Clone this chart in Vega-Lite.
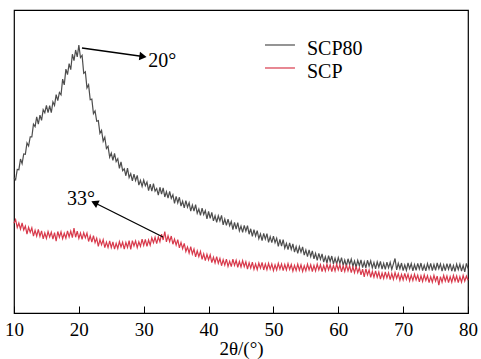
{
  "$schema": "https://vega.github.io/schema/vega-lite/v6.json",
  "width": 454,
  "height": 303,
  "autosize": {"type": "none"},
  "padding": {"left": 14, "top": 10, "right": 13, "bottom": 46},
  "background": "white",
  "config": {"view": {"stroke": "#000", "strokeWidth": 1.2}},
  "datasets": {
    "labels": [
      {"x":30.7,"y":83.2,"text":"20°"},
      {"x":18.17,"y":37.7,"text":"33°"}
    ],
    "legend": [
      {"series":"SCP80","x1":48.70,"x2":53.32,"y":88.45,"tx":55.17,"ty":87.25},
      {"series":"SCP","x1":48.70,"x2":53.32,"y":80.86,"tx":55.17,"ty":79.66}
    ],
    "arrows": [
      {"id":"a20","x":20.48,"y":87.46},{"id":"a20","x":29.89,"y":84.65},
      {"id":"a33","x":32.97,"y":25.08},{"id":"a33","x":22.43,"y":36.40}
    ],
    "head20": [{"x":29.89,"y":84.65}],
    "head33": [{"x":22.43,"y":36.40}],
    "xrd": [
{"x":10,"SCP80":44.7,"SCP":29.6},{"x":10.25,"SCP80":44.0,"SCP":30.8},{"x":10.5,"SCP80":47.4,"SCP":28.2},{"x":10.75,"SCP80":47.3,"SCP":29.7},
{"x":11,"SCP80":50.8,"SCP":27.7},{"x":11.25,"SCP80":49.3,"SCP":29.7},{"x":11.5,"SCP80":52.5,"SCP":27.4},{"x":11.75,"SCP80":52.4,"SCP":28.7},
{"x":12,"SCP80":56.1,"SCP":26.0},{"x":12.25,"SCP80":55.1,"SCP":28.3},{"x":12.5,"SCP80":58.1,"SCP":26.6},{"x":12.75,"SCP80":58.1,"SCP":28.1},
{"x":13,"SCP80":62.3,"SCP":25.4},{"x":13.25,"SCP80":61.5,"SCP":27.3},{"x":13.5,"SCP80":64.7,"SCP":25.4},{"x":13.75,"SCP80":62.3,"SCP":27.6},
{"x":14,"SCP80":65.3,"SCP":25.3},{"x":14.25,"SCP80":63.6,"SCP":27.1},{"x":14.5,"SCP80":67.1,"SCP":24.5},{"x":14.75,"SCP80":66.1,"SCP":26.4},
{"x":15,"SCP80":68.5,"SCP":24.6},{"x":15.25,"SCP80":66.1,"SCP":26.9},{"x":15.5,"SCP80":68.4,"SCP":25.1},{"x":15.75,"SCP80":66.1,"SCP":26.7},
{"x":16,"SCP80":69.7,"SCP":24.4},{"x":16.25,"SCP80":68.5,"SCP":26.5},{"x":16.5,"SCP80":72.1,"SCP":23.7},{"x":16.75,"SCP80":70.1,"SCP":26.9},
{"x":17,"SCP80":72.8,"SCP":25.0},{"x":17.25,"SCP80":72.0,"SCP":26.8},{"x":17.5,"SCP80":77.2,"SCP":24.5},{"x":17.75,"SCP80":75.3,"SCP":26.3},
{"x":18,"SCP80":80.5,"SCP":24.7},{"x":18.25,"SCP80":78.7,"SCP":27.1},{"x":18.5,"SCP80":82.3,"SCP":25.1},{"x":18.75,"SCP80":80.3,"SCP":27.0},
{"x":19,"SCP80":85.4,"SCP":24.9},{"x":19.25,"SCP80":83.3,"SCP":28.0},{"x":19.5,"SCP80":86.8,"SCP":25.0},{"x":19.75,"SCP80":84.5,"SCP":27.0},
{"x":20,"SCP80":88.4,"SCP":24.6},{"x":20.25,"SCP80":84.3,"SCP":26.4},{"x":20.5,"SCP80":85.0,"SCP":24.3},{"x":20.75,"SCP80":79.1,"SCP":26.5},
{"x":21,"SCP80":79.6,"SCP":24.8},{"x":21.25,"SCP80":74.3,"SCP":26.4},{"x":21.5,"SCP80":75.3,"SCP":23.6},{"x":21.75,"SCP80":70.4,"SCP":25.5},
{"x":22,"SCP80":70.6,"SCP":23.4},{"x":22.25,"SCP80":65.8,"SCP":25.5},{"x":22.5,"SCP80":66.7,"SCP":23.2},{"x":22.75,"SCP80":63.3,"SCP":24.7},
{"x":23,"SCP80":63.5,"SCP":22.0},{"x":23.25,"SCP80":59.3,"SCP":24.2},{"x":23.5,"SCP80":60.3,"SCP":22.5},{"x":23.75,"SCP80":56.7,"SCP":24.2},
{"x":24,"SCP80":58.0,"SCP":21.6},{"x":24.25,"SCP80":54.3,"SCP":23.4},{"x":24.5,"SCP80":55.0,"SCP":21.6},{"x":24.75,"SCP80":51.4,"SCP":23.8},
{"x":25,"SCP80":52.8,"SCP":21.6},{"x":25.25,"SCP80":50.4,"SCP":23.5},{"x":25.5,"SCP80":52.7,"SCP":21.1},{"x":25.75,"SCP80":50.0,"SCP":23.0},
{"x":26,"SCP80":50.9,"SCP":21.3},{"x":26.25,"SCP80":47.7,"SCP":23.6},{"x":26.5,"SCP80":49.9,"SCP":21.8},{"x":26.75,"SCP80":47.0,"SCP":23.4},
{"x":27,"SCP80":47.6,"SCP":21.1},{"x":27.25,"SCP80":45.3,"SCP":23.3},{"x":27.5,"SCP80":47.8,"SCP":21.6},{"x":27.75,"SCP80":44.7,"SCP":23.9},
{"x":28,"SCP80":46.0,"SCP":21.0},{"x":28.25,"SCP80":43.6,"SCP":23.9},{"x":28.5,"SCP80":45.8,"SCP":22.1},{"x":28.75,"SCP80":43.7,"SCP":23.8},
{"x":29,"SCP80":45.4,"SCP":21.6},{"x":29.25,"SCP80":42.2,"SCP":23.5},{"x":29.5,"SCP80":43.8,"SCP":22.0},{"x":29.75,"SCP80":41.8,"SCP":24.4},
{"x":30,"SCP80":43.9,"SCP":22.3},{"x":30.25,"SCP80":42.0,"SCP":24.3},{"x":30.5,"SCP80":43.2,"SCP":22.0},{"x":30.75,"SCP80":40.4,"SCP":24.1},
{"x":31,"SCP80":42.5,"SCP":22.4},{"x":31.25,"SCP80":40.2,"SCP":24.8},{"x":31.5,"SCP80":42.7,"SCP":23.2},{"x":31.75,"SCP80":40.2,"SCP":25.0},
{"x":32,"SCP80":41.1,"SCP":22.9},{"x":32.25,"SCP80":38.9,"SCP":25.1},{"x":32.5,"SCP80":41.5,"SCP":23.5},{"x":32.75,"SCP80":39.2,"SCP":26.0},
{"x":33,"SCP80":41.3,"SCP":24.1},{"x":33.25,"SCP80":38.3,"SCP":26.9},{"x":33.5,"SCP80":40.0,"SCP":23.5},{"x":33.75,"SCP80":37.9,"SCP":25.5},
{"x":34,"SCP80":40.1,"SCP":23.6},{"x":34.25,"SCP80":37.8,"SCP":25.4},{"x":34.5,"SCP80":39.0,"SCP":22.7},{"x":34.75,"SCP80":36.2,"SCP":24.4},
{"x":35,"SCP80":38.5,"SCP":22.4},{"x":35.25,"SCP80":36.3,"SCP":24.2},{"x":35.5,"SCP80":38.2,"SCP":21.5},{"x":35.75,"SCP80":35.3,"SCP":23.3},
{"x":36,"SCP80":36.9,"SCP":21.2},{"x":36.25,"SCP80":34.7,"SCP":23.0},{"x":36.5,"SCP80":37.1,"SCP":20.3},{"x":36.75,"SCP80":34.9,"SCP":21.8},
{"x":37,"SCP80":36.4,"SCP":19.8},{"x":37.25,"SCP80":33.6,"SCP":21.9},{"x":37.5,"SCP80":35.6,"SCP":19.5},{"x":37.75,"SCP80":33.6,"SCP":21.1},
{"x":38,"SCP80":35.8,"SCP":18.5},{"x":38.25,"SCP80":32.9,"SCP":20.5},{"x":38.5,"SCP80":34.3,"SCP":18.6},{"x":38.75,"SCP80":32.2,"SCP":20.3},
{"x":39,"SCP80":34.6,"SCP":17.7},{"x":39.25,"SCP80":32.5,"SCP":19.5},{"x":39.5,"SCP80":33.8,"SCP":17.3},{"x":39.75,"SCP80":31.1,"SCP":19.4},
{"x":40,"SCP80":33.5,"SCP":17.5},{"x":40.25,"SCP80":31.2,"SCP":19.2},{"x":40.5,"SCP80":33.2,"SCP":16.6},{"x":40.75,"SCP80":30.4,"SCP":18.4},
{"x":41,"SCP80":32.1,"SCP":16.5},{"x":41.25,"SCP80":29.9,"SCP":18.6},{"x":41.5,"SCP80":32.1,"SCP":16.4},{"x":41.75,"SCP80":30.4,"SCP":18.0},
{"x":42,"SCP80":32.2,"SCP":15.6},{"x":42.25,"SCP80":29.1,"SCP":17.6},{"x":42.5,"SCP80":31.0,"SCP":15.8},{"x":42.75,"SCP80":28.9,"SCP":17.8},
{"x":43,"SCP80":31.0,"SCP":15.4},{"x":43.25,"SCP80":28.8,"SCP":17.1},{"x":43.5,"SCP80":30.2,"SCP":15.3},{"x":43.75,"SCP80":27.5,"SCP":17.8},
{"x":44,"SCP80":29.9,"SCP":15.7},{"x":44.25,"SCP80":27.7,"SCP":17.4},{"x":44.5,"SCP80":29.8,"SCP":15.1},{"x":44.75,"SCP80":27.1,"SCP":17.0},
{"x":45,"SCP80":28.7,"SCP":15.2},{"x":45.25,"SCP80":26.6,"SCP":17.3},{"x":45.5,"SCP80":28.9,"SCP":15.3},{"x":45.75,"SCP80":27.0,"SCP":16.9},
{"x":46,"SCP80":28.8,"SCP":14.5},{"x":46.25,"SCP80":26.0,"SCP":16.6},{"x":46.5,"SCP80":27.8,"SCP":14.8},{"x":46.75,"SCP80":25.3,"SCP":16.8},
{"x":47,"SCP80":27.5,"SCP":14.4},{"x":47.25,"SCP80":25.4,"SCP":16.2},{"x":47.5,"SCP80":27.2,"SCP":14.3},{"x":47.75,"SCP80":24.5,"SCP":16.5},
{"x":48,"SCP80":26.1,"SCP":14.8},{"x":48.25,"SCP80":23.9,"SCP":16.7},{"x":48.5,"SCP80":26.3,"SCP":14.2},{"x":48.75,"SCP80":24.4,"SCP":16.2},
{"x":49,"SCP80":26.2,"SCP":14.3},{"x":49.25,"SCP80":23.3,"SCP":16.4},{"x":49.5,"SCP80":25.2,"SCP":14.5},{"x":49.75,"SCP80":23.2,"SCP":16.2},
{"x":50,"SCP80":25.4,"SCP":14.0},{"x":50.25,"SCP80":23.2,"SCP":15.9},{"x":50.5,"SCP80":24.7,"SCP":14.2},{"x":50.75,"SCP80":22.0,"SCP":16.4},
{"x":51,"SCP80":24.3,"SCP":14.5},{"x":51.25,"SCP80":22.1,"SCP":16.2},{"x":51.5,"SCP80":24.2,"SCP":14.0},{"x":51.75,"SCP80":21.4,"SCP":16.0},
{"x":52,"SCP80":23.0,"SCP":14.2},{"x":52.25,"SCP80":20.9,"SCP":16.3},{"x":52.5,"SCP80":23.1,"SCP":14.4},{"x":52.75,"SCP80":21.0,"SCP":16.0},
{"x":53,"SCP80":22.8,"SCP":13.8},{"x":53.25,"SCP80":20.1,"SCP":15.7},{"x":53.5,"SCP80":21.9,"SCP":14.0},{"x":53.75,"SCP80":19.7,"SCP":16.1},
{"x":54,"SCP80":21.9,"SCP":14.1},{"x":54.25,"SCP80":20.1,"SCP":15.9},{"x":54.5,"SCP80":21.8,"SCP":13.7},{"x":54.75,"SCP80":19.1,"SCP":15.6},
{"x":55,"SCP80":20.8,"SCP":13.9},{"x":55.25,"SCP80":18.6,"SCP":16.1},{"x":55.5,"SCP80":20.8,"SCP":14.2},{"x":55.75,"SCP80":18.6,"SCP":15.9},
{"x":56,"SCP80":20.5,"SCP":13.7},{"x":56.25,"SCP80":17.9,"SCP":15.7},{"x":56.5,"SCP80":19.7,"SCP":13.9},{"x":56.75,"SCP80":17.4,"SCP":16.1},
{"x":57,"SCP80":19.7,"SCP":14.2},{"x":57.25,"SCP80":17.7,"SCP":15.9},{"x":57.5,"SCP80":19.5,"SCP":13.7},{"x":57.75,"SCP80":16.8,"SCP":15.7},
{"x":58,"SCP80":18.6,"SCP":13.9},{"x":58.25,"SCP80":16.5,"SCP":16.1},{"x":58.5,"SCP80":18.9,"SCP":14.2},{"x":58.75,"SCP80":17.0,"SCP":15.9},
{"x":59,"SCP80":18.8,"SCP":13.7},{"x":59.25,"SCP80":16.2,"SCP":15.7},{"x":59.5,"SCP80":18.1,"SCP":13.9},{"x":59.75,"SCP80":16.1,"SCP":16.1},
{"x":60,"SCP80":18.3,"SCP":14.2},{"x":60.25,"SCP80":16.4,"SCP":15.9},{"x":60.5,"SCP80":18.3,"SCP":13.6},{"x":60.75,"SCP80":15.7,"SCP":15.6},
{"x":61,"SCP80":17.5,"SCP":13.7},{"x":61.25,"SCP80":15.5,"SCP":15.9},{"x":61.5,"SCP80":17.9,"SCP":13.9},{"x":61.75,"SCP80":16.0,"SCP":15.6},
{"x":62,"SCP80":17.8,"SCP":13.3},{"x":62.25,"SCP80":15.4,"SCP":15.2},{"x":62.5,"SCP80":17.2,"SCP":13.3},{"x":62.75,"SCP80":15.1,"SCP":15.4},
{"x":63,"SCP80":17.4,"SCP":13.3},{"x":63.25,"SCP80":15.6,"SCP":14.9},{"x":63.5,"SCP80":17.5,"SCP":12.6},{"x":63.75,"SCP80":15.0,"SCP":14.5},
{"x":64,"SCP80":16.9,"SCP":11.9},{"x":64.25,"SCP80":14.9,"SCP":14.6},{"x":64.5,"SCP80":17.4,"SCP":12.6},{"x":64.75,"SCP80":15.5,"SCP":14.2},
{"x":65,"SCP80":17.2,"SCP":11.8},{"x":65.25,"SCP80":14.9,"SCP":13.7},{"x":65.5,"SCP80":16.7,"SCP":11.8},{"x":65.75,"SCP80":14.6,"SCP":13.9},
{"x":66,"SCP80":16.9,"SCP":11.8},{"x":66.25,"SCP80":15.1,"SCP":13.5},{"x":66.5,"SCP80":17.0,"SCP":11.2},{"x":66.75,"SCP80":14.5,"SCP":13.2},
{"x":67,"SCP80":16.4,"SCP":11.4},{"x":67.25,"SCP80":14.4,"SCP":13.6},{"x":67.5,"SCP80":16.8,"SCP":11.6},{"x":67.75,"SCP80":14.9,"SCP":13.3},
{"x":68,"SCP80":16.7,"SCP":11.0},{"x":68.25,"SCP80":14.4,"SCP":13.0},{"x":68.5,"SCP80":16.2,"SCP":11.1},{"x":68.75,"SCP80":18.0,"SCP":13.3},
{"x":69,"SCP80":14.2,"SCP":11.4},{"x":69.25,"SCP80":16.4,"SCP":13.0},{"x":69.5,"SCP80":14.6,"SCP":10.8},{"x":69.75,"SCP80":16.5,"SCP":12.7},
{"x":70,"SCP80":14.0,"SCP":10.9},{"x":70.25,"SCP80":15.9,"SCP":13.1},{"x":70.5,"SCP80":14.1,"SCP":11.1},{"x":70.75,"SCP80":16.5,"SCP":12.8},
{"x":71,"SCP80":14.6,"SCP":10.6},{"x":71.25,"SCP80":16.3,"SCP":12.5},{"x":71.5,"SCP80":13.9,"SCP":10.7},{"x":71.75,"SCP80":16.0,"SCP":12.8},
{"x":72,"SCP80":14.1,"SCP":10.9},{"x":72.25,"SCP80":16.4,"SCP":12.5},{"x":72.5,"SCP80":14.5,"SCP":10.3},{"x":72.75,"SCP80":16.5,"SCP":12.3},
{"x":73,"SCP80":14.0,"SCP":10.4},{"x":73.25,"SCP80":15.8,"SCP":12.6},{"x":73.5,"SCP80":13.9,"SCP":10.7},{"x":73.75,"SCP80":16.3,"SCP":12.3},
{"x":74,"SCP80":14.5,"SCP":10.0},{"x":74.25,"SCP80":16.4,"SCP":12.0},{"x":74.5,"SCP80":14.0,"SCP":10.2},{"x":74.75,"SCP80":16.0,"SCP":12.4},
{"x":75,"SCP80":14.1,"SCP":10.5},{"x":75.25,"SCP80":16.5,"SCP":12.2},{"x":75.5,"SCP80":14.6,"SCP":9.2},{"x":75.75,"SCP80":16.2,"SCP":12.0},
{"x":76,"SCP80":13.8,"SCP":10.2},{"x":76.25,"SCP80":15.9,"SCP":12.4},{"x":76.5,"SCP80":14.0,"SCP":10.5},{"x":76.75,"SCP80":16.3,"SCP":12.2},
{"x":77,"SCP80":14.4,"SCP":10.0},{"x":77.25,"SCP80":16.3,"SCP":12.0},{"x":77.5,"SCP80":13.8,"SCP":10.2},{"x":77.75,"SCP80":15.7,"SCP":12.4},
{"x":78,"SCP80":13.7,"SCP":10.5},{"x":78.25,"SCP80":16.1,"SCP":12.2},{"x":78.5,"SCP80":14.3,"SCP":10.0},{"x":78.75,"SCP80":16.1,"SCP":12.0},
{"x":79,"SCP80":13.8,"SCP":10.2},{"x":79.25,"SCP80":15.7,"SCP":12.4},{"x":79.5,"SCP80":13.6,"SCP":10.5},{"x":79.75,"SCP80":16.4,"SCP":12.2},
{"x":80,"SCP80":14.7,"SCP":10.8}
    ]
  },
  "layer": [
    {
      "data": {"name": "xrd"},
      "transform": [{"fold": ["SCP80", "SCP"], "as": ["series", "v"]}],
      "mark": {"type": "line", "strokeWidth": 1.2},
      "encoding": {
        "x": {
          "field": "x", "type": "quantitative",
          "scale": {"domain": [10, 80], "nice": false, "zero": false},
          "axis": {
            "values": [10, 20, 30, 40, 50, 60, 70, 80],
            "tickSize": -7, "tickColor": "#000", "tickWidth": 1,
            "domainColor": "#000", "domainWidth": 1.2, "grid": false,
            "labelFont": "Liberation Serif", "labelFontSize": 19, "labelColor": "#000",
            "labelPadding": 14, "labelFlush": false,
            "title": "2θ/(°)", "titleFont": "Liberation Serif", "titleFontSize": 19,
            "titleFontWeight": "normal", "titleColor": "#000", "titlePadding": 0
          }
        },
        "y": {"field": "v", "type": "quantitative", "scale": {"domain": [0, 100]}, "axis": null},
        "color": {
          "field": "series", "type": "nominal",
          "scale": {"domain": ["SCP80", "SCP"], "range": ["#4d4d4d", "#d8394b"]},
          "legend": null
        }
      }
    },
    {
      "data": {"name": "labels"},
      "mark": {"type": "text", "font": "Liberation Serif", "fontSize": 20, "align": "left"},
      "encoding": {
        "x": {"field": "x", "type": "quantitative"},
        "y": {"field": "y", "type": "quantitative"},
        "text": {"field": "text"}
      }
    },
    {
      "data": {"name": "legend"},
      "mark": {"type": "text", "font": "Liberation Serif", "fontSize": 20, "align": "left"},
      "encoding": {
        "x": {"field": "tx", "type": "quantitative"},
        "y": {"field": "ty", "type": "quantitative"},
        "text": {"field": "series"}
      }
    },
    {
      "data": {"name": "arrows"},
      "mark": {"type": "line", "color": "#000", "strokeWidth": 1.3},
      "encoding": {
        "x": {"field": "x", "type": "quantitative"},
        "y": {"field": "y", "type": "quantitative"},
        "detail": {"field": "id"}
      }
    },
    {
      "data": {"name": "head20"},
      "mark": {"type": "point", "shape": "triangle-right", "filled": true, "color": "#000", "size": 70, "opacity": 1, "angle": 8},
      "encoding": {
        "x": {"field": "x", "type": "quantitative"},
        "y": {"field": "y", "type": "quantitative"}
      }
    },
    {
      "data": {"name": "head33"},
      "mark": {"type": "point", "shape": "triangle-right", "filled": true, "color": "#000", "size": 70, "opacity": 1, "angle": 205.6},
      "encoding": {
        "x": {"field": "x", "type": "quantitative"},
        "y": {"field": "y", "type": "quantitative"}
      }
    },
    {
      "data": {"name": "legend"},
      "mark": {"type": "rule", "strokeWidth": 1.2},
      "encoding": {
        "x": {"field": "x1", "type": "quantitative"},
        "x2": {"field": "x2"},
        "y": {"field": "y", "type": "quantitative"},
        "color": {"field": "series", "type": "nominal", "legend": null}
      }
    }
  ]
}
